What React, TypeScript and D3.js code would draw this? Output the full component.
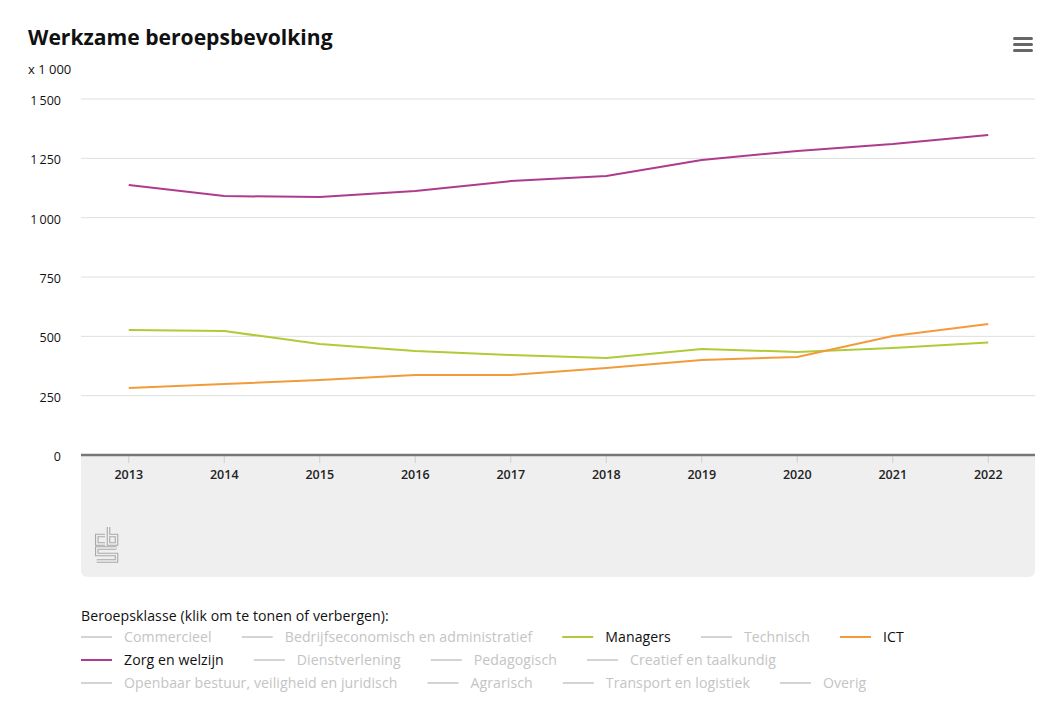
import React from "react";
import * as d3 from "d3";

const years = [2013, 2014, 2015, 2016, 2017, 2018, 2019, 2020, 2021, 2022];
const zorg = [1138, 1091, 1087, 1112, 1154, 1176, 1243, 1281, 1310, 1348];
const managers = [527, 522, 468, 438, 421, 409, 447, 434, 451, 474];
const ict = [282, 299, 316, 337, 337, 367, 400, 413, 501, 552];
const yTicks = [0, 250, 500, 750, 1000, 1250, 1500];

const series = [
  { name: "Managers", values: managers, color: "#afcb37" },
  { name: "ICT", values: ict, color: "#f39b3b" },
  { name: "Zorg en welzijn", values: zorg, color: "#af3b8f" },
];

const legendRows = [
  ["Commercieel", "Bedrijfseconomisch en administratief", "Managers", "Technisch", "ICT"],
  ["Zorg en welzijn", "Dienstverlening", "Pedagogisch", "Creatief en taalkundig"],
  ["Openbaar bestuur, veiligheid en juridisch", "Agrarisch", "Transport en logistiek", "Overig"],
];

const W = 1046;
const H = 702;
const left = 81;
const right = 1035;
const top = 99;
const bottom = 455;
const FONT = "'Open Sans', 'Noto Sans', sans-serif";

const fmt = (v: number) => {
  const s = String(v);
  return s.length > 3 ? s.slice(0, s.length - 3) + "\u2009" + s.slice(-3) : s;
};

function Legend() {
  const ref = React.useRef<SVGGElement>(null);
  React.useEffect(() => {
    const g = d3.select(ref.current);
    g.selectAll("*").remove();
    const colorOf = (n: string) => series.find((s) => s.name === n)?.color;
    legendRows.forEach((row, ri) => {
      let x = left;
      const y = 637 + ri * 23;
      row.forEach((name) => {
        const c = colorOf(name);
        g.append("line")
          .attr("x1", x).attr("x2", x + 31).attr("y1", y).attr("y2", y)
          .attr("stroke", c || "#d4d4d4").attr("stroke-width", 2);
        const t = g.append("text")
          .attr("x", x + 43).attr("y", y + 5)
          .attr("font-family", FONT).attr("font-size", 14.1)
          .attr("letter-spacing", 0.08)
          .attr("fill", c ? "#111" : "#c4c4c4")
          .text(name);
        const w = (t.node() as SVGTextElement).getComputedTextLength();
        x = x + 43 + w + 30;
      });
    });
  }, []);
  return <g ref={ref} />;
}

export default function App() {
  const x = d3.scalePoint<number>().domain(years).range([left, right + 1]).padding(0.5);
  const y = d3.scaleLinear().domain([0, 1500]).range([bottom, top]);
  const line = d3
    .line<number>()
    .x((_, i) => x(years[i]) as number)
    .y((d) => y(d));

  const r = 7;
  const panelPath = `M${left},${bottom} H${right} V${577 - r} Q${right},577 ${right - r},577 H${left + r} Q${left},577 ${left},${577 - r} Z`;
  const logoPaths = [
    "M10,8.5 H1.8 V17 H10",
    "M13.5,0 V17 H21.5 V8.5 H13.5",
    "M21.5,21 H1.8 V27.5 H21.5 V34 H1.8",
  ];

  return (
    <svg
      width={W}
      height={H}
      style={{ position: "absolute", left: 0, top: 0, display: "block", background: "#fff" }}
    >
      <text x={28} y={45} fontFamily={FONT} fontWeight={700} fontSize={21.1} fill="#111">
        Werkzame beroepsbevolking
      </text>
      <text x={28} y={74} fontFamily={FONT} fontSize={13} fill="#111">
        x 1 000
      </text>
      {[0, 6, 12].map((d) => (
        <rect key={d} x={1013} y={37 + d} width={20} height={3} rx={1.5} fill="#666" />
      ))}

      <path d={panelPath} fill="#efefef" />

      {yTicks.map((t) => (
        <g key={t}>
          {t > 0 && (
            <line x1={left} x2={right} y1={y(t)} y2={y(t)} stroke="#dedede" strokeWidth={1} />
          )}
          <text
            x={61}
            y={y(t) + 6}
            textAnchor="end"
            fontFamily={FONT}
            fontWeight={500}
            fontSize={12.5}
            fill="#111"
          >
            {fmt(t)}
          </text>
        </g>
      ))}

      {years.map((yr) => (
        <g key={yr}>
          <line x1={x(yr)} x2={x(yr)} y1={bottom} y2={bottom + 8} stroke="#cfcfcf" strokeWidth={1} />
          <text
            x={x(yr)}
            y={bottom + 24}
            textAnchor="middle"
            fontFamily={FONT}
            fontWeight={600}
            fontSize={12.5}
            fill="#222"
          >
            {yr}
          </text>
        </g>
      ))}
      <line x1={left} x2={right} y1={bottom} y2={bottom} stroke="#777" strokeWidth={2.5} />

      {series.map((s) => (
        <path key={s.name} d={line(s.values) || ""} fill="none" stroke={s.color} strokeWidth={2} strokeLinejoin="round" />
      ))}

      <g fill="none" transform="translate(95,527)">
        {logoPaths.map((p, i) => (
          <path key={"o" + i} d={p} stroke="#a8a8a8" strokeWidth={3.6} strokeLinejoin="miter" />
        ))}
        {logoPaths.map((p, i) => (
          <path key={"i" + i} d={p} stroke="#efefef" strokeWidth={1.4} strokeLinejoin="miter" />
        ))}
      </g>

      <text x={81} y={621} fontFamily={FONT} fontSize={14.1} letterSpacing={0.08} fill="#111">
        Beroepsklasse (klik om te tonen of verbergen):
      </text>
      <Legend />
    </svg>
  );
}
